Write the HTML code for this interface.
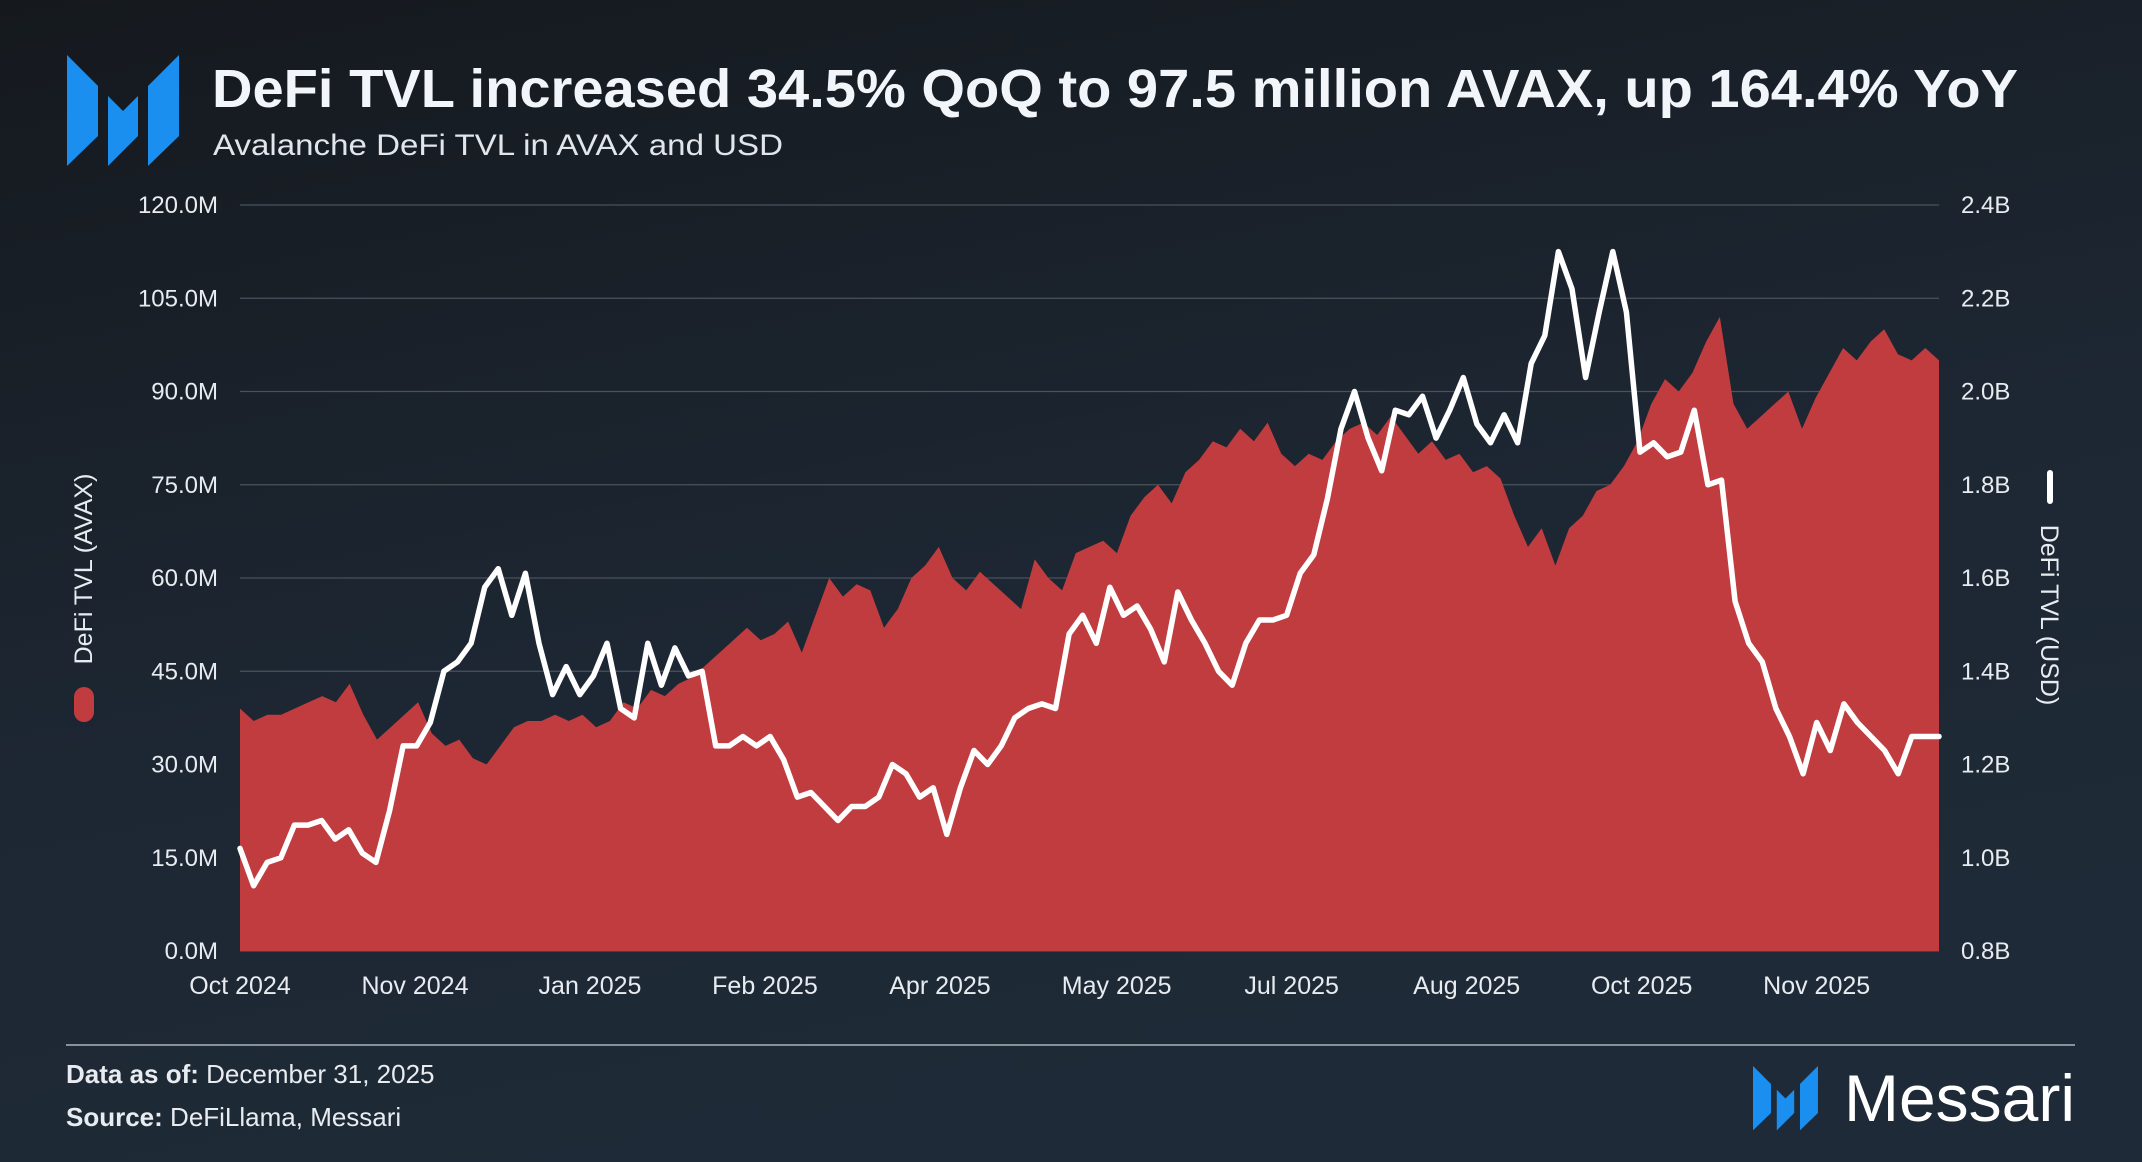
<!DOCTYPE html>
<html><head><meta charset="utf-8"><style>
html,body{margin:0;padding:0;background:#171d24}
svg{display:block}
text{font-family:"Liberation Sans",sans-serif}
</style></head><body>
<svg id="chart" width="2142" height="1162" viewBox="0 0 2142 1162" xmlns="http://www.w3.org/2000/svg">
<defs>
<linearGradient id="bg" x1="0" y1="0" x2="0.35" y2="1">
<stop offset="0" stop-color="#15191e"/><stop offset="0.6" stop-color="#1d2733"/><stop offset="1" stop-color="#1e2a37"/>
</linearGradient>
<g id="micon">
<polygon points="0,0 31,31 31,81 0,111"/>
<polygon points="41,41 56,56 71,41 71,81 41,111"/>
<polygon points="112,0 112,81 81,111 81,31"/>
</g>
</defs>
<rect width="2142" height="1162" fill="url(#bg)"/>
<use href="#micon" x="67" y="55" fill="#1a8ff0"/>
<text x="212" y="107" font-size="54" font-weight="bold" fill="#f2f6fa" textLength="1806" lengthAdjust="spacingAndGlyphs">DeFi TVL increased 34.5% QoQ to 97.5 million AVAX, up 164.4% YoY</text>
<text x="213" y="155" font-size="30" fill="#e2e6ea" textLength="570" lengthAdjust="spacingAndGlyphs">Avalanche DeFi TVL in AVAX and USD</text>
<g id="grid"></g>
<g id="yleft"></g>
<g id="yright"></g>
<g id="xaxis"></g>
<path id="area" fill="#c03c3f"/>
<path id="line" fill="none" stroke="#ffffff" stroke-width="5.5" stroke-linejoin="round" stroke-linecap="round"/>
<text transform="translate(92,569) rotate(-90)" text-anchor="middle" font-size="25" fill="#e8ecf0">DeFi TVL (AVAX)</text>
<rect x="74" y="687" width="20" height="35" rx="10" fill="#c03c3f"/>
<text transform="translate(2041,615) rotate(90)" text-anchor="middle" font-size="25" fill="#e8ecf0">DeFi TVL (USD)</text>
<rect x="2047" y="470" width="6" height="34" rx="3" fill="#ffffff"/>
<line x1="66" y1="1045" x2="2075" y2="1045" stroke="#8a9097" stroke-width="2"/>
<text x="66" y="1083" font-size="26" fill="#e8ecf0"><tspan font-weight="bold">Data as of:</tspan> December 31, 2025</text>
<text x="66" y="1126" font-size="26" fill="#e8ecf0"><tspan font-weight="bold">Source:</tspan> DeFiLlama, Messari</text>
<use href="#micon" transform="translate(1753,1066) scale(0.58)" fill="#1a8ff0"/>
<text x="1844" y="1121" font-size="66" fill="#ffffff" textLength="231" lengthAdjust="spacingAndGlyphs">Messari</text>
</svg>
<script>
const avaxTvl=[39,37,38,38,39,40,41,40,43,38,34,36,38,40,35,33,34,31,30,33,36,37,37,38,37,38,36,37,40,39,42,41,43,44,46,48,50,52,50,51,53,48,54,60,57,59,58,52,55,60,62,65,60,58,61,59,57,55,63,60,58,64,65,66,64,70,73,75,72,77,79,82,81,84,82,85,80,78,80,79,82,84,85,83,86,83,80,82,79,80,77,78,76,70,65,68,62,68,70,74,75,78,82,88,92,90,93,98,102,88,84,86,88,90,84,89,93,97,95,98,100,96,95,97,95];
const usdTvl=[1.02,0.94,0.99,1.0,1.07,1.07,1.08,1.04,1.06,1.01,0.99,1.10,1.24,1.24,1.29,1.40,1.42,1.46,1.58,1.62,1.52,1.61,1.46,1.35,1.41,1.35,1.39,1.46,1.32,1.30,1.46,1.37,1.45,1.39,1.40,1.24,1.24,1.26,1.24,1.26,1.21,1.13,1.14,1.11,1.08,1.11,1.11,1.13,1.20,1.18,1.13,1.15,1.05,1.15,1.23,1.20,1.24,1.30,1.32,1.33,1.32,1.48,1.52,1.46,1.58,1.52,1.54,1.49,1.42,1.57,1.51,1.46,1.40,1.37,1.46,1.51,1.51,1.52,1.61,1.65,1.77,1.92,2.0,1.90,1.83,1.96,1.95,1.99,1.90,1.96,2.03,1.93,1.89,1.95,1.89,2.06,2.12,2.30,2.22,2.03,2.17,2.30,2.17,1.87,1.89,1.86,1.87,1.96,1.80,1.81,1.55,1.46,1.42,1.32,1.26,1.18,1.29,1.23,1.33,1.29,1.26,1.23,1.18,1.26,1.26,1.26];
const leftTicks=[0,15,30,45,60,75,90,105,120];
const rightTicks=[0.8,1.0,1.2,1.4,1.6,1.8,2.0,2.2,2.4];
const xLabels=["Oct 2024","Nov 2024","Jan 2025","Feb 2025","Apr 2025","May 2025","Jul 2025","Aug 2025","Oct 2025","Nov 2025"];
const xLabelFrac=[0,0.103,0.206,0.309,0.412,0.516,0.619,0.722,0.825,0.928];
const X0=240,X1=1939,Y0=951,Y1=205;
const NS='http://www.w3.org/2000/svg';
const xs=i=>X0+(X1-X0)*i/(avaxTvl.length-1);
const yl=v=>Y0-(Y0-Y1)*v/120;
const yr=v=>Y0-(Y0-Y1)*(v-0.8)/1.6;
function mk(tag,attrs,parent,txt){const e=document.createElementNS(NS,tag);for(const k in attrs)e.setAttribute(k,attrs[k]);if(txt!==undefined)e.textContent=txt;parent.appendChild(e);return e;}
const grid=document.getElementById('grid'),gl=document.getElementById('yleft'),gr=document.getElementById('yright'),gx=document.getElementById('xaxis');
leftTicks.forEach(v=>{
 const l=mk('line',{x1:X0,x2:X1,y1:yl(v),y2:yl(v),stroke:'#4a525c','stroke-width':1.3},grid);
 
 
 const t=mk('text',{x:218,y:yl(v)+8,'text-anchor':'end','font-size':24,fill:'#e8ecf0'},gl,v.toFixed(1)+'M');
 
 
});
rightTicks.forEach(v=>{
 const t=mk('text',{x:1961,y:yr(v)+8,'font-size':24,fill:'#e8ecf0'},gr,v.toFixed(1)+'B');
 
 
});
xLabels.forEach((s,i)=>{
 const t=mk('text',{x:X0+(X1-X0)*xLabelFrac[i],y:994,'text-anchor':'middle','font-size':25,fill:'#e8ecf0'},gx,s);
 
 
});
let d='M'+X0+','+Y0;
avaxTvl.forEach((v,i)=>{d+=' L'+xs(i).toFixed(1)+','+yl(v).toFixed(1);});
d+=' L'+X1+','+Y0+' Z';
document.getElementById('area').setAttribute('d',d);
let d2='';
usdTvl.forEach((v,i)=>{d2+=(i?' L':'M')+(X0+(X1-X0)*i/(usdTvl.length-1)).toFixed(1)+','+yr(v).toFixed(1);});
document.getElementById('line').setAttribute('d',d2);
</script>
</body></html>
